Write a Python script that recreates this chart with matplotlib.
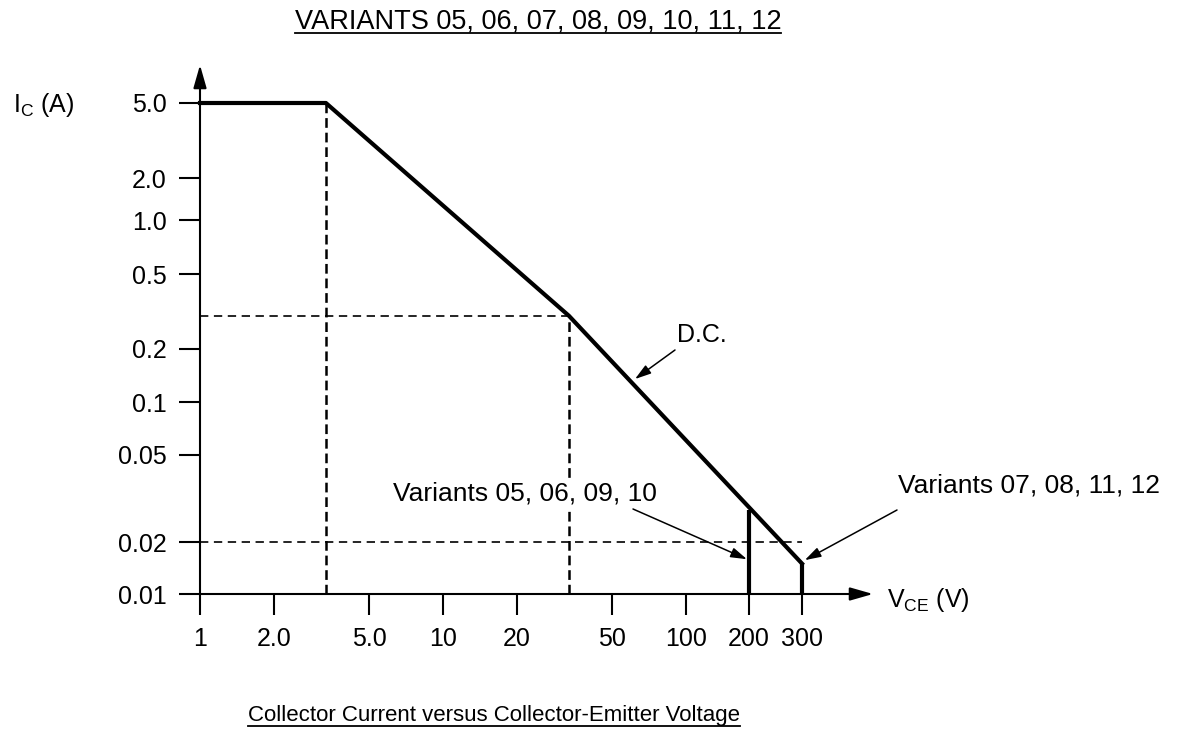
import numpy as np
import matplotlib
matplotlib.use("Agg")
import matplotlib.pyplot as plt
from matplotlib.lines import Line2D

plt.rcParams['font.family'] = ['Liberation Sans', 'DejaVu Sans']
plt.rcParams['mathtext.default'] = 'regular'
plt.rcParams['lines.scale_dashes'] = False


# D.C. safe operating area
vce_dc = [1, 3.3, 33, 300]
ic_dc = [5.0, 5.0, 0.3, 0.015]

# voltage limits: 200 V (variants 05, 06, 09, 10), 300 V (variants 07, 08, 11, 12)
vce_limit = [200, 300]
ic_limit = [0.028, 0.015]

# dashed guide lines
vce_guide = [3.3, 33]
ic_guide_top = [5.0, 0.3]
ic_guide = [0.3, 0.02]
vce_guide_end = [33, 300]

x_ticks = [1, 2, 5, 10, 20, 50, 100, 200, 300]
x_labels = ["1", "2.0", "5.0", "10", "20", "50", "100", "200", "300"]
y_ticks = [0.01, 0.02, 0.05, 0.1, 0.2, 0.5, 1, 2, 5]
y_labels = ["0.01", "0.02", "0.05", "0.1", "0.2", "0.5", "1.0", "2.0", "5.0"]


# The printed log axes are hand drawn and not evenly spaced,
# so the scale maps every printed tick to where it sits on the page
x_cal = np.log10([0.5] + x_ticks + [1000])
x_pos = np.array([127, 200, 274, 369, 443, 517, 612, 686, 749, 802, 929])
y_cal = np.log10([0.005] + y_ticks + [10])
y_pos = -np.array([646, 594, 542, 455, 402, 349, 274, 220, 178, 103, 46])


def fwd_x(v):
    return np.interp(np.log10(np.clip(v, 1e-9, None)), x_cal, x_pos)


def inv_x(p):
    return 10 ** np.interp(p, x_pos, x_cal)


def fwd_y(v):
    return np.interp(np.log10(np.clip(v, 1e-9, None)), y_cal, y_pos)


def inv_y(p):
    return 10 ** np.interp(p, y_pos, y_cal)


W, H = 1191, 731


def fx(px):
    return px / W


def fy(py):
    return 1 - py / H


fig = plt.figure(figsize=(W / 100, H / 100), dpi=100)
ax = fig.add_axes([fx(200), fy(594), (873 - 200) / W, (594 - 65) / H])
ax.set_xscale('function', functions=(fwd_x, inv_x))
ax.set_yscale('function', functions=(fwd_y, inv_y))
ax.set_xlim(1, inv_x(873))
ax.set_ylim(0.01, inv_y(-65))

ax.set_xticks(x_ticks, x_labels)
ax.set_yticks(y_ticks, y_labels)
ax.minorticks_off()
ax.tick_params(direction='out', length=15, width=1.5, labelsize=18, pad=9)
for s in ax.spines.values():
    s.set_visible(False)

# axis lines with arrow heads
arrow_axis = dict(arrowstyle='-|>,head_length=0.7,head_width=0.2', mutation_scale=20,
                  lw=1.5, color='k', shrinkA=0, shrinkB=0)
ax.annotate('', xy=(1, 0), xytext=(0, 0), xycoords='axes fraction', arrowprops=arrow_axis)
ax.annotate('', xy=(0, 1), xytext=(0, 0), xycoords='axes fraction', arrowprops=arrow_axis)

# guides
ax.vlines(vce_guide, 0.01, ic_guide_top, colors='k', lw=1.8, linestyles=(0, (7, 3.5)))
ax.hlines(ic_guide, 1, vce_guide_end, colors='k', lw=1.2, linestyles=(0, (6, 4)))

# D.C. curve and voltage limits
ax.plot(vce_dc, ic_dc, color='k', lw=3, clip_on=False)
ax.vlines(vce_limit, 0.01, ic_limit, colors='k', lw=3, clip_on=False)

# labels and pointers
arrow_note = dict(arrowstyle='-|>,head_length=0.65,head_width=0.2', mutation_scale=15,
                  lw=1.1, color='k', shrinkA=0, shrinkB=0)
fig.text(fx(677), fy(342), 'D.C.', fontsize=18, va='baseline')
ax.annotate('', xy=(62, 0.135), xytext=(fx(675), fy(350)), textcoords='figure fraction',
            arrowprops=arrow_note)
fig.text(fx(393), fy(500), 'Variants 05, 06, 09, 10', fontsize=19, va='baseline',
         bbox=dict(facecolor='white', edgecolor='none', pad=2))
ax.annotate('', xy=(195.5, 0.0159), xytext=(fx(633), fy(509)), textcoords='figure fraction',
            arrowprops=arrow_note)
fig.text(fx(898), fy(492), 'Variants 07, 08, 11, 12', fontsize=19, va='baseline')
ax.annotate('', xy=(308, 0.0157), xytext=(fx(897), fy(510)), textcoords='figure fraction',
            arrowprops=arrow_note)

fig.text(fx(13), fy(112), 'I$_C$ (A)', fontsize=18, va='baseline')
fig.text(fx(887), fy(607), 'V$_{CE}$ (V)', fontsize=18, va='baseline')

title = fig.text(fx(538), fy(29), 'VARIANTS 05, 06, 07, 08, 09, 10, 11, 12',
                 fontsize=19.5, ha='center', va='baseline')
bottom = fig.text(fx(494), fy(721), 'Collector Current versus Collector-Emitter Voltage',
                  fontsize=16, ha='center', va='baseline')

# underline both headings
fig.canvas.draw()
r = fig.canvas.get_renderer()
for t, y in [(title, 33), (bottom, 726)]:
    bb = t.get_window_extent(r)
    fig.add_artist(Line2D([bb.x0 / W, bb.x1 / W], [fy(y), fy(y)],
                          transform=fig.transFigure, color='k', lw=1.3))

fig.savefig('out.png', dpi=100)
